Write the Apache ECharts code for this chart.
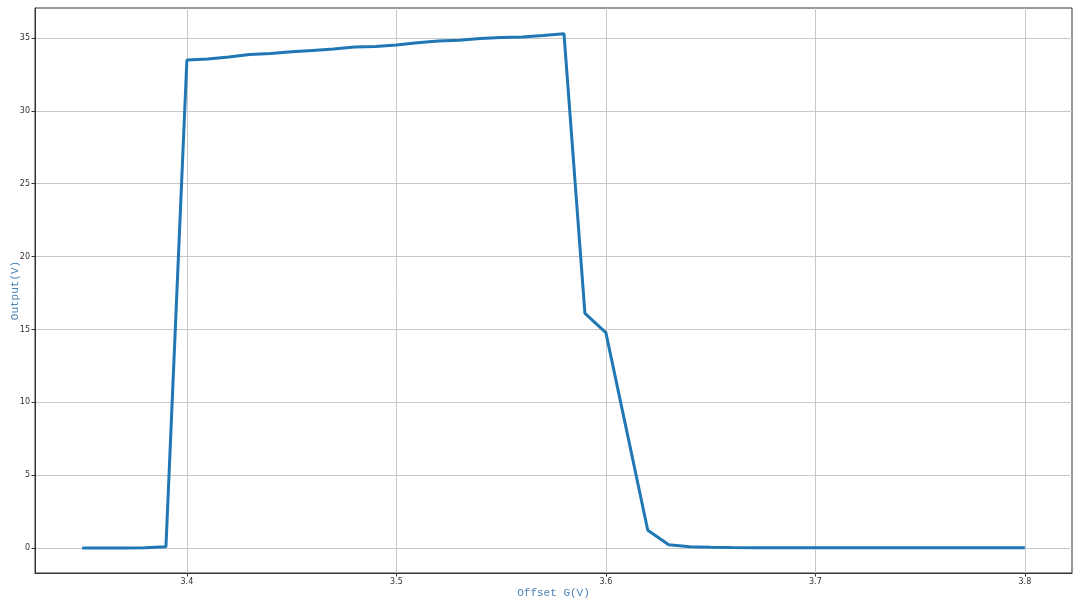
<!DOCTYPE html>
<html>
<head>
<meta charset="utf-8">
<script src="https://cdn.jsdelivr.net/npm/echarts@6/dist/echarts.min.js"></script>
<style>html,body{margin:0;padding:0;background:#fff}#c{width:1080px;height:607px}</style>
</head>
<body>
<div id="c"></div>
<script>
const offsetG = [3.35,3.36,3.37,3.38,3.39,3.40,3.41,3.42,3.43,3.44,3.45,3.46,3.47,3.48,3.49,3.50,3.51,3.52,3.53,3.54,3.55,3.56,3.57,3.58,3.59,3.60,3.61,3.62,3.63,3.64,3.65,3.66,3.67,3.68,3.69,3.70,3.71,3.72,3.73,3.74,3.75,3.76,3.77,3.78,3.79,3.80];
const outputV = [0,0,0,0.02,0.08,33.49,33.56,33.7,33.87,33.93,34.05,34.15,34.25,34.38,34.42,34.52,34.68,34.8,34.85,34.97,35.03,35.07,35.18,35.3,16.1,14.78,8.0,1.22,0.23,0.09,0.05,0.03,0.02,0.02,0.02,0.02,0.02,0.02,0.02,0.02,0.02,0.02,0.02,0.02,0.02,0.02];
const xTicks = [3.4,3.5,3.6,3.7,3.8];
const yTicks = [0,5,10,15,20,25,30,35];

const chart = echarts.init(document.getElementById('c'));
const tickFont = {fontSize: 8, color: '#333', fontFamily: 'DejaVu Sans'};
chart.setOption({
  animation: false,
  grid: {left: 35, right: 8, top: 8, bottom: 34, containLabel: false, outerBoundsMode: 'none', show: true, borderColor: '#333', borderWidth: 1},
  xAxis: {
    type: 'value', min: 3.3275, max: 3.8225,
    name: 'Offset G(V)', nameLocation: 'middle', nameGap: 15, nameMoveOverlap: false,
    nameTextStyle: {color: '#4a82b4', fontSize: 11, fontFamily: 'Liberation Mono'},
    axisLine: {show: true, onZero: false, lineStyle: {color: '#333', width: 1}},
    axisTick: {show: true, length: 3.5, lineStyle: {color: '#333'}, customValues: xTicks},
    axisLabel: {...tickFont, margin: 5, customValues: xTicks, formatter: v => v.toFixed(1)},
    splitLine: {show: true, lineStyle: {color: '#c8c8c8', width: 1}}
  },
  yAxis: {
    type: 'value', min: -1.716, max: 37.06,
    name: 'Output(V)', nameLocation: 'middle', nameGap: 14, nameMoveOverlap: false,
    nameTextStyle: {color: '#4a82b4', fontSize: 11, fontFamily: 'Liberation Mono'},
    axisLine: {show: true, onZero: false, lineStyle: {color: '#333', width: 1}},
    axisTick: {show: true, length: 3.5, lineStyle: {color: '#333'}, customValues: yTicks},
    axisLabel: {...tickFont, margin: 5, customValues: yTicks},
    splitLine: {show: true, lineStyle: {color: '#c8c8c8', width: 1}}
  },
  series: [{
    type: 'line', data: offsetG.map((x, i) => [x, outputV[i]]),
    showSymbol: false, symbol: 'none',
    lineStyle: {color: '#1f77b4', width: 3}
  }]
});
</script>
</body>
</html>
